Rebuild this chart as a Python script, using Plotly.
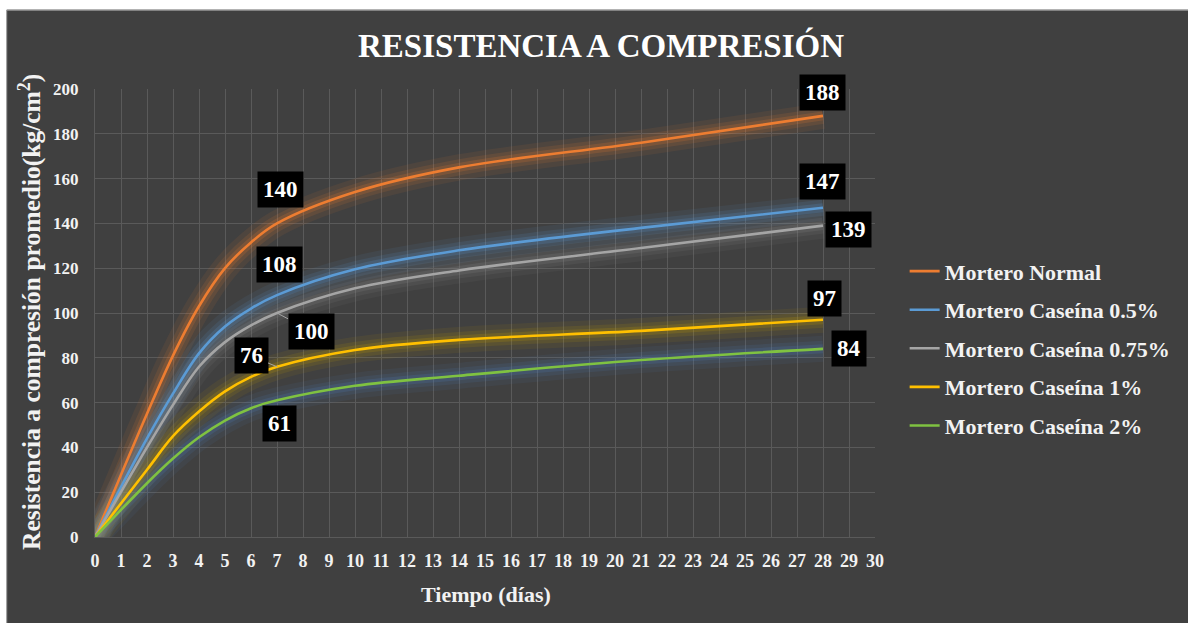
import plotly.graph_objects as go

# Compressive strength of mortar vs curing age
dias = [0, 2, 3, 4, 5, 6, 7, 10, 14, 21, 28]
series_names = [
    "Mortero Normal",
    "Mortero Caseína 0.5%",
    "Mortero Caseína 0.75%",
    "Mortero Caseína 1%",
    "Mortero Caseína 2%",
]
normal = [0, 55, 81, 103, 120, 131.5, 140, 154, 165, 176, 188]
caseina_05 = [0, 44, 64, 82, 94, 102, 108, 119.5, 128, 138, 147]
caseina_075 = [0, 40, 59, 76, 87, 94.5, 100, 111, 119, 129, 139]
caseina_1 = [0, 30, 45, 56, 65, 71.5, 76, 83.5, 88, 92, 97]
caseina_2 = [0, 24, 35, 44.5, 52, 57.5, 61, 67.5, 72, 79, 84]
x_ticks = list(range(0, 31))
y_ticks = list(range(0, 201, 20))

values = [normal, caseina_05, caseina_075, caseina_1, caseina_2]
colors = ["#ED7D31", "#5B9BD5", "#A5A5A5", "#FFC000", "#7FC241"]
glow = ["#ED7D31", "#5B9BD5", "#8a8a8a", "#C9A000", "#4F7FC0"]

SERIF = "Liberation Serif"
BG = "#404040"
GRID = "#5a5a5a"
TXT = "#f2f2f2"
SMOOTH = 1.0

fig = go.Figure()

# soft halo under each curve
for vals, gc in zip(values, glow):
    for w, op in [(26, 0.08), (16, 0.12), (9, 0.18)]:
        fig.add_trace(go.Scatter(
            x=dias, y=vals, mode="lines",
            line=dict(color=gc, width=w, shape="spline", smoothing=SMOOTH),
            opacity=op, showlegend=False, hoverinfo="skip",
        ))

for i, (name, vals, c) in enumerate(zip(series_names, values, colors)):
    fig.add_trace(go.Scatter(
        x=dias, y=vals, mode="lines", name=f"<b>{name}</b>",
        line=dict(color=c, width=2.6, shape="spline", smoothing=SMOOTH),
        legendgroup=f"g{i}",
    ))

# value labels at 7 and 28 days: (series index, day, xshift, yshift, leader)
label_spec = [
    (0, 7, 3, 34, None),
    (1, 7, 2, 31, None),
    (2, 7, 0, 0, (34, 18)),
    (3, 7, 0, 0, (-26, -11)),
    (4, 7, 2, -23, None),
    (0, 28, -1, 23, None),
    (1, 28, -1, 26, None),
    (2, 28, 25, -4, None),
    (3, 28, 1, 21, None),
    (4, 28, 26, 0, None),
]
for si, day, xs, ys, leader in label_spec:
    val = values[si][dias.index(day)]
    common = dict(
        x=day, y=val, xref="x", yref="y",
        text=f"<b>{val:g}</b>",
        font=dict(family=SERIF, size=23, color="white"),
        bgcolor="black", borderpad=5,
    )
    if leader is None:
        fig.add_annotation(**common, showarrow=False, xshift=xs, yshift=ys)
    else:
        fig.add_annotation(**common, showarrow=True, ax=leader[0], ay=leader[1],
                           arrowhead=0, arrowwidth=1, arrowcolor="#a6a6a6")

# axis titles
fig.add_annotation(
    x=-0.083, y=0.503, xref="paper", yref="paper",
    text="<b>Resistencia a compresión promedio(kg/cm<sup>2</sup>)</b>",
    textangle=-90, showarrow=False, xanchor="center", yanchor="middle",
    font=dict(family=SERIF, size=25.5, color=TXT),
)
fig.add_annotation(
    x=0.501, y=-0.129, xref="paper", yref="paper",
    text="<b>Tiempo (días)</b>", showarrow=False,
    xanchor="center", yanchor="middle",
    font=dict(family=SERIF, size=22, color=TXT),
)

# white frame strips around the dark chart area
fig.add_shape(type="rect", xref="paper", yref="paper",
              x0=-0.2, x1=1.5, y0=1.1763, y1=1.3, fillcolor="white",
              line=dict(width=0), layer="above")
fig.add_shape(type="rect", xref="paper", yref="paper",
              x0=-0.2, x1=-0.1132, y0=-0.3, y1=1.3, fillcolor="white",
              line=dict(width=0), layer="above")
fig.add_shape(type="line", xref="paper", yref="paper",
              x0=-0.1132, x1=1.5, y0=1.1763, y1=1.1763,
              line=dict(color="#9a9a9a", width=1.5), layer="above")
fig.add_shape(type="line", xref="paper", yref="paper",
              x0=-0.1132, x1=-0.1132, y0=-0.3, y1=1.1763,
              line=dict(color="#9a9a9a", width=1), layer="above")

fig.update_layout(
    width=1188, height=623,
    margin=dict(l=95, r=307, t=89, b=86),
    paper_bgcolor=BG, plot_bgcolor=BG,
    title=dict(
        text="<b>RESISTENCIA A COMPRESIÓN</b>",
        x=601 / 1188, y=1 - 45 / 623, xref="container", yref="container",
        xanchor="center", yanchor="middle",
        font=dict(family=SERIF, size=33, color="white"),
    ),
    legend=dict(
        x=1.038, y=0.64, xanchor="left", yanchor="top",
        font=dict(family=SERIF, size=22, color=TXT),
        bgcolor="rgba(0,0,0,0)", traceorder="grouped", tracegroupgap=7,
        itemwidth=30,
    ),
    xaxis=dict(
        range=[0, 30], tickmode="array", tickvals=x_ticks,
        ticktext=[f"<b>{t}</b>" for t in x_ticks],
        showgrid=True, gridcolor=GRID, gridwidth=1,
        showline=True, linecolor=GRID, zeroline=False,
        tickfont=dict(family=SERIF, size=18, color=TXT),
        ticks="", ticklabelstandoff=7,
    ),
    yaxis=dict(
        range=[0, 200], tickmode="array", tickvals=y_ticks,
        ticktext=[f"<b>{t}</b>" for t in y_ticks],
        showgrid=True, gridcolor=GRID, gridwidth=1,
        showline=True, linecolor=GRID, zeroline=False,
        tickfont=dict(family=SERIF, size=17, color=TXT),
        ticks="", ticklabelstandoff=12,
    ),
    showlegend=True,
)

fig.write_html("out.html")
